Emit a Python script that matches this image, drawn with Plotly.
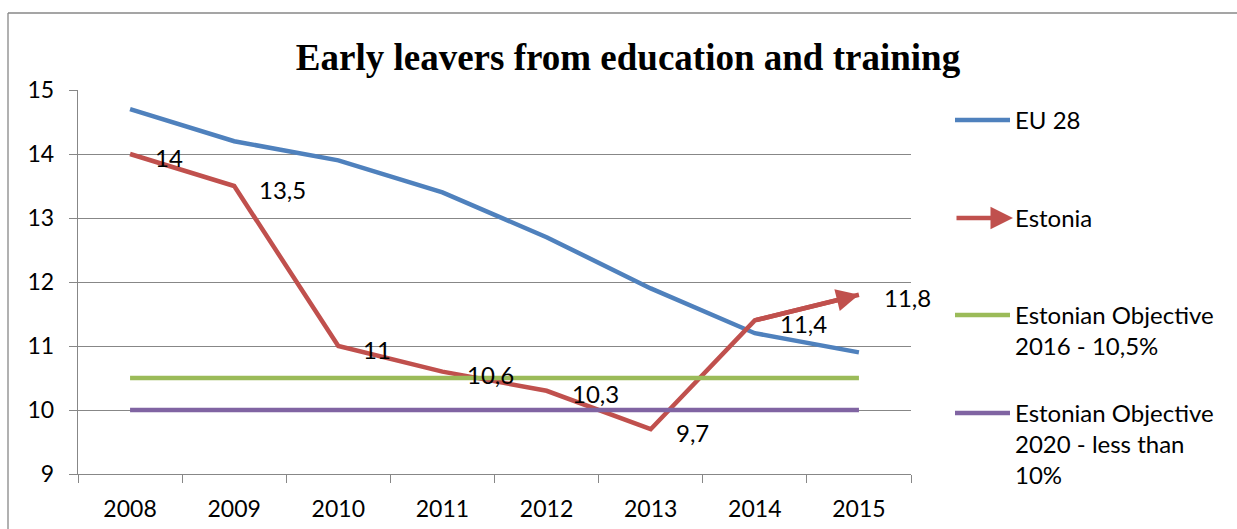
import plotly.graph_objects as go

# ---- data -------------------------------------------------------------
years = ["2008", "2009", "2010", "2011", "2012", "2013", "2014", "2015"]
eu28 = [14.7, 14.2, 13.9, 13.4, 12.7, 11.9, 11.2, 10.9]
estonia = [14.0, 13.5, 11.0, 10.6, 10.3, 9.7, 11.4, 11.8]
objective_2016 = [10.5, 10.5, 10.5, 10.5, 10.5, 10.5, 10.5, 10.5]
objective_2020 = [10.0, 10.0, 10.0, 10.0, 10.0, 10.0, 10.0, 10.0]

series_names = [
    "EU 28",
    "Estonia",
    "Estonian Objective 2016 - 10,5%",
    "Estonian Objective 2020 - less than 10%",
]
legend_texts = [
    "EU 28",
    "Estonia",
    "Estonian Objective<br>2016 - 10,5%",
    "Estonian Objective<br>2020 - less than<br>10%",
]
title_text = "Early leavers from education and training"

# ---- styling ----------------------------------------------------------
W, H = 1237, 529
PLOT_L, PLOT_R, PLOT_T, PLOT_B = 78, 911, 90, 474
colors = ["#4F81BD", "#C0504D", "#9BBB59", "#8064A2"]
GRID = "#878787"
FONT = "Lato"
FS_TICK = 23
FS_TEXT = 24
LW = 4.5


def px_x(px):
    return (px - PLOT_L) / (PLOT_R - PLOT_L)


def px_y(py):
    return (PLOT_B - py) / (PLOT_B - PLOT_T)


def fmt(v):
    return f"{v:g}".replace(".", ",")


fig = go.Figure()
all_series = [eu28, estonia, objective_2016, objective_2020]
for name, vals, col in zip(series_names, all_series, colors):
    fig.add_trace(go.Scatter(
        x=years, y=vals, name=name, mode="lines",
        line=dict(color=col, width=LW),
        showlegend=False,
    ))

annotations = []

# value labels for Estonia
for i, v in enumerate(estonia):
    annotations.append(dict(
        x=i, y=v, xref="x", yref="y", text=fmt(v), showarrow=False,
        xanchor="left", yanchor="middle", xshift=23, yshift=-3,
        font=dict(family=FONT, size=FS_TEXT, color="black"),
    ))

# arrow head on the last Estonia segment
n = len(years)
annotations.append(dict(
    x=n - 1, y=estonia[-1], ax=n - 2, ay=estonia[-2],
    xref="x", yref="y", axref="x", ayref="y",
    text="", showarrow=True, arrowhead=2, arrowsize=1.0,
    arrowwidth=LW, arrowcolor=colors[1],
))

# legend, drawn by hand so that samples and spacing follow the layout
legend_rows_px = [120, 218, 315, 413]
sample_x0, sample_x1, text_x = 955, 1010, 1013
shapes = []
for k, (txt, col, yrow) in enumerate(zip(legend_texts, colors, legend_rows_px)):
    if k == 1:
        annotations.append(dict(
            x=px_x(sample_x1 + 3), y=px_y(yrow), xref="paper", yref="paper",
            ax=-(sample_x1 + 3 - sample_x0), ay=0, axref="pixel", ayref="pixel",
            text="", showarrow=True, arrowhead=2, arrowsize=1.0,
            arrowwidth=LW, arrowcolor=col,
        ))
    else:
        shapes.append(dict(
            type="line", xref="paper", yref="paper",
            x0=px_x(sample_x0), x1=px_x(sample_x1),
            y0=px_y(yrow), y1=px_y(yrow),
            line=dict(color=col, width=LW),
        ))
    annotations.append(dict(
        x=px_x(text_x), y=px_y(yrow - 17), xref="paper", yref="paper",
        text=txt, showarrow=False, xanchor="left", yanchor="top",
        align="left", font=dict(family=FONT, size=FS_TEXT, color="black"),
    ))

# chart frame: top and left edges, kept inside the page
shapes.append(dict(
    type="line", xref="paper", yref="paper",
    x0=px_x(8), x1=px_x(W), y0=px_y(13), y1=px_y(13),
    line=dict(color=GRID, width=1.3), layer="below",
))
shapes.append(dict(
    type="line", xref="paper", yref="paper",
    x0=px_x(8), x1=px_x(8), y0=px_y(13), y1=px_y(H),
    line=dict(color=GRID, width=1.3), layer="below",
))

fig.update_layout(
    width=W, height=H, autosize=False,
    margin=dict(l=PLOT_L, r=W - PLOT_R, t=PLOT_T, b=H - PLOT_B, pad=0,
                autoexpand=False),
    paper_bgcolor="white", plot_bgcolor="white",
    title=dict(
        text=f"<b>{title_text}</b>", x=px_x(628), xref="paper", xanchor="center",
        y=1 - 57 / H, yref="container", yanchor="middle",
        font=dict(family="Liberation Serif", size=37, color="black"),
    ),
    font=dict(family=FONT, size=FS_TICK, color="black"),
    xaxis=dict(
        type="category", range=[-0.5, n - 0.5], showgrid=False,
        showline=True, linecolor=GRID, linewidth=1.4, automargin=False,
        ticks="outside", ticklen=8, tickcolor=GRID, tickwidth=1.4,
        tickson="boundaries", ticklabelstandoff=14,
        tickfont=dict(family=FONT, size=FS_TICK, color="black"),
    ),
    yaxis=dict(
        range=[9, 15], dtick=1, showgrid=True, gridcolor=GRID, gridwidth=1.4,
        zeroline=False, showline=True, linecolor=GRID, linewidth=1.4,
        automargin=False,
        ticks="outside", ticklen=8, tickcolor=GRID, tickwidth=1.4,
        ticklabelstandoff=10,
        tickfont=dict(family=FONT, size=FS_TICK, color="black"),
    ),
    shapes=shapes,
    annotations=annotations,
)

fig.write_html("out.html")
